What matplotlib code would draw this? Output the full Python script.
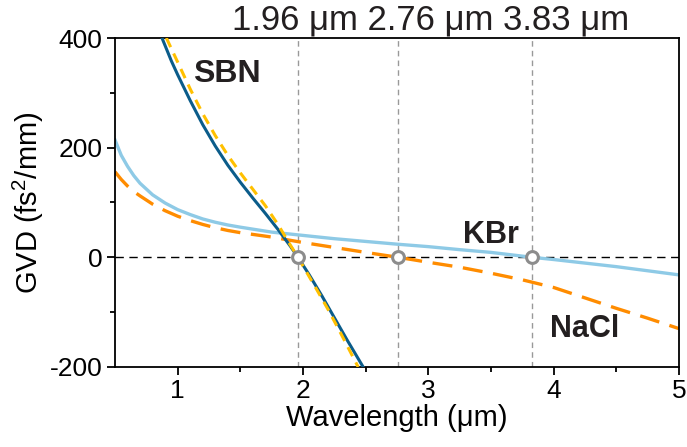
import matplotlib
matplotlib.use("Agg")
import matplotlib.pyplot as plt

plt.rcParams['font.family'] = ['Liberation Sans', 'DejaVu Sans']
plt.rcParams['mathtext.fontset'] = 'custom'
plt.rcParams['mathtext.rm'] = 'Liberation Sans'

# GVD curves (fs^2/mm) against wavelength (um)
sbn_wl = [0.875, 0.95, 1.0, 1.1, 1.2, 1.3, 1.4, 1.5, 1.6, 1.7, 1.8, 1.9, 1.96,
          2.05, 2.15, 2.25, 2.35, 2.48]
sbn_gvd = [400, 358, 333, 286, 242, 203, 168, 137, 108, 80, 51, 20, 0,
           -32, -70, -110, -150, -200]

sbn_fit_wl = [0.91, 1.0, 1.1, 1.2, 1.3, 1.4, 1.5, 1.6, 1.7, 1.8, 1.9, 1.96,
              2.1, 2.2, 2.3, 2.44]
sbn_fit_gvd = [400, 356, 307, 262, 222, 186, 154, 124, 94, 60, 22, 0,
               -55, -95, -138, -200]

kbr_wl = [0.5, 0.55, 0.6, 0.65, 0.7, 0.8, 0.9, 1.0, 1.1, 1.2, 1.3, 1.4, 1.5,
          1.75, 2.0, 2.25, 2.5, 2.75, 3.0, 3.25, 3.5, 3.83, 4.0, 4.5, 5.0]
kbr_gvd = [214, 186, 166, 149, 135, 114, 99, 87, 78, 70, 64, 59, 55,
           46, 40, 34, 29, 24, 19.5, 14, 9, 0, -4, -17, -32]

nacl_wl = [0.5, 0.55, 0.6, 0.65, 0.7, 0.8, 0.9, 1.0, 1.1, 1.2, 1.3, 1.4, 1.5,
           1.75, 2.0, 2.25, 2.5, 2.76, 3.0, 3.25, 3.5, 3.75, 4.0, 4.25, 4.5,
           4.75, 5.0]
nacl_gvd = [156, 142, 130, 120, 112, 97, 85, 75, 67, 60, 54, 49, 45,
            37, 27, 18, 9, 0, -9, -18, -29, -41, -55, -74, -93,
            -111, -130]

# zero-dispersion wavelengths
zdw = [1.96, 2.76, 3.83]

fig = plt.figure(figsize=(6.87, 4.47), dpi=100)
ax = fig.add_axes([115 / 687, 1 - 367 / 447, 564 / 687, 329 / 447])

ax.axhline(0, color='black', lw=1.0, ls=(0, (6, 4)), zorder=1)
for w in zdw:
    ax.axvline(w, color='#999999', lw=1.0, ls=(0, (4, 3)), zorder=1)

ax.plot(kbr_wl, kbr_gvd, color='#8ecae6', lw=2.4, zorder=2)
ax.plot(nacl_wl, nacl_gvd, color='#ff8c00', lw=2.4, ls=(0, (6, 3.2)), zorder=2)
ax.plot(sbn_wl, sbn_gvd, color='#0b5c8a', lw=2.2, zorder=3)
ax.plot(sbn_fit_wl, sbn_fit_gvd, color='#ffc000', lw=2.2, ls=(0, (3.3, 2.3)), zorder=4)

ax.plot(zdw, [0] * len(zdw), 'o', ms=8.5, mfc='white', mec='#8c8c8c', mew=2.2, zorder=5)

ax.text(1.39, 335, 'SBN', fontsize=23, fontweight='bold', color='#231f20', ha='center', va='center')
ax.text(3.5, 41, 'KBr', fontsize=22, fontweight='bold', color='#231f20', ha='center', va='center')
ax.text(4.25, -130, 'NaCl', fontsize=22, fontweight='bold', color='#231f20', ha='center', va='center')

fig.text(431 / 687, 1 - 30 / 447, '1.96 \u03bcm 2.76 \u03bcm 3.83 \u03bcm',
         fontsize=25, ha='center', va='baseline', color='#231f20')

ax.set_xlim(0.5, 5)
ax.set_ylim(-200, 400)
ax.set_xticks([1, 2, 3, 4, 5])
ax.set_xticks([1.5, 2.5, 3.5, 4.5], minor=True)
ax.set_yticks([-200, 0, 200, 400])
ax.set_yticklabels(['-200', '0', '200', '400'])
ax.set_yticks([-100, 100, 300], minor=True)
ax.tick_params(which='major', length=6, width=1.3, labelsize=19, direction='out', pad=3)
ax.tick_params(which='minor', length=3.5, width=1.3, direction='out')
for s in ax.spines.values():
    s.set_linewidth(1.3)

ax.set_xlabel('Wavelength (\u03bcm)', fontsize=21, labelpad=0)
ax.set_ylabel('GVD (fs$^2$/mm)', fontsize=21, labelpad=3)

fig.savefig('out.png', dpi=100)
